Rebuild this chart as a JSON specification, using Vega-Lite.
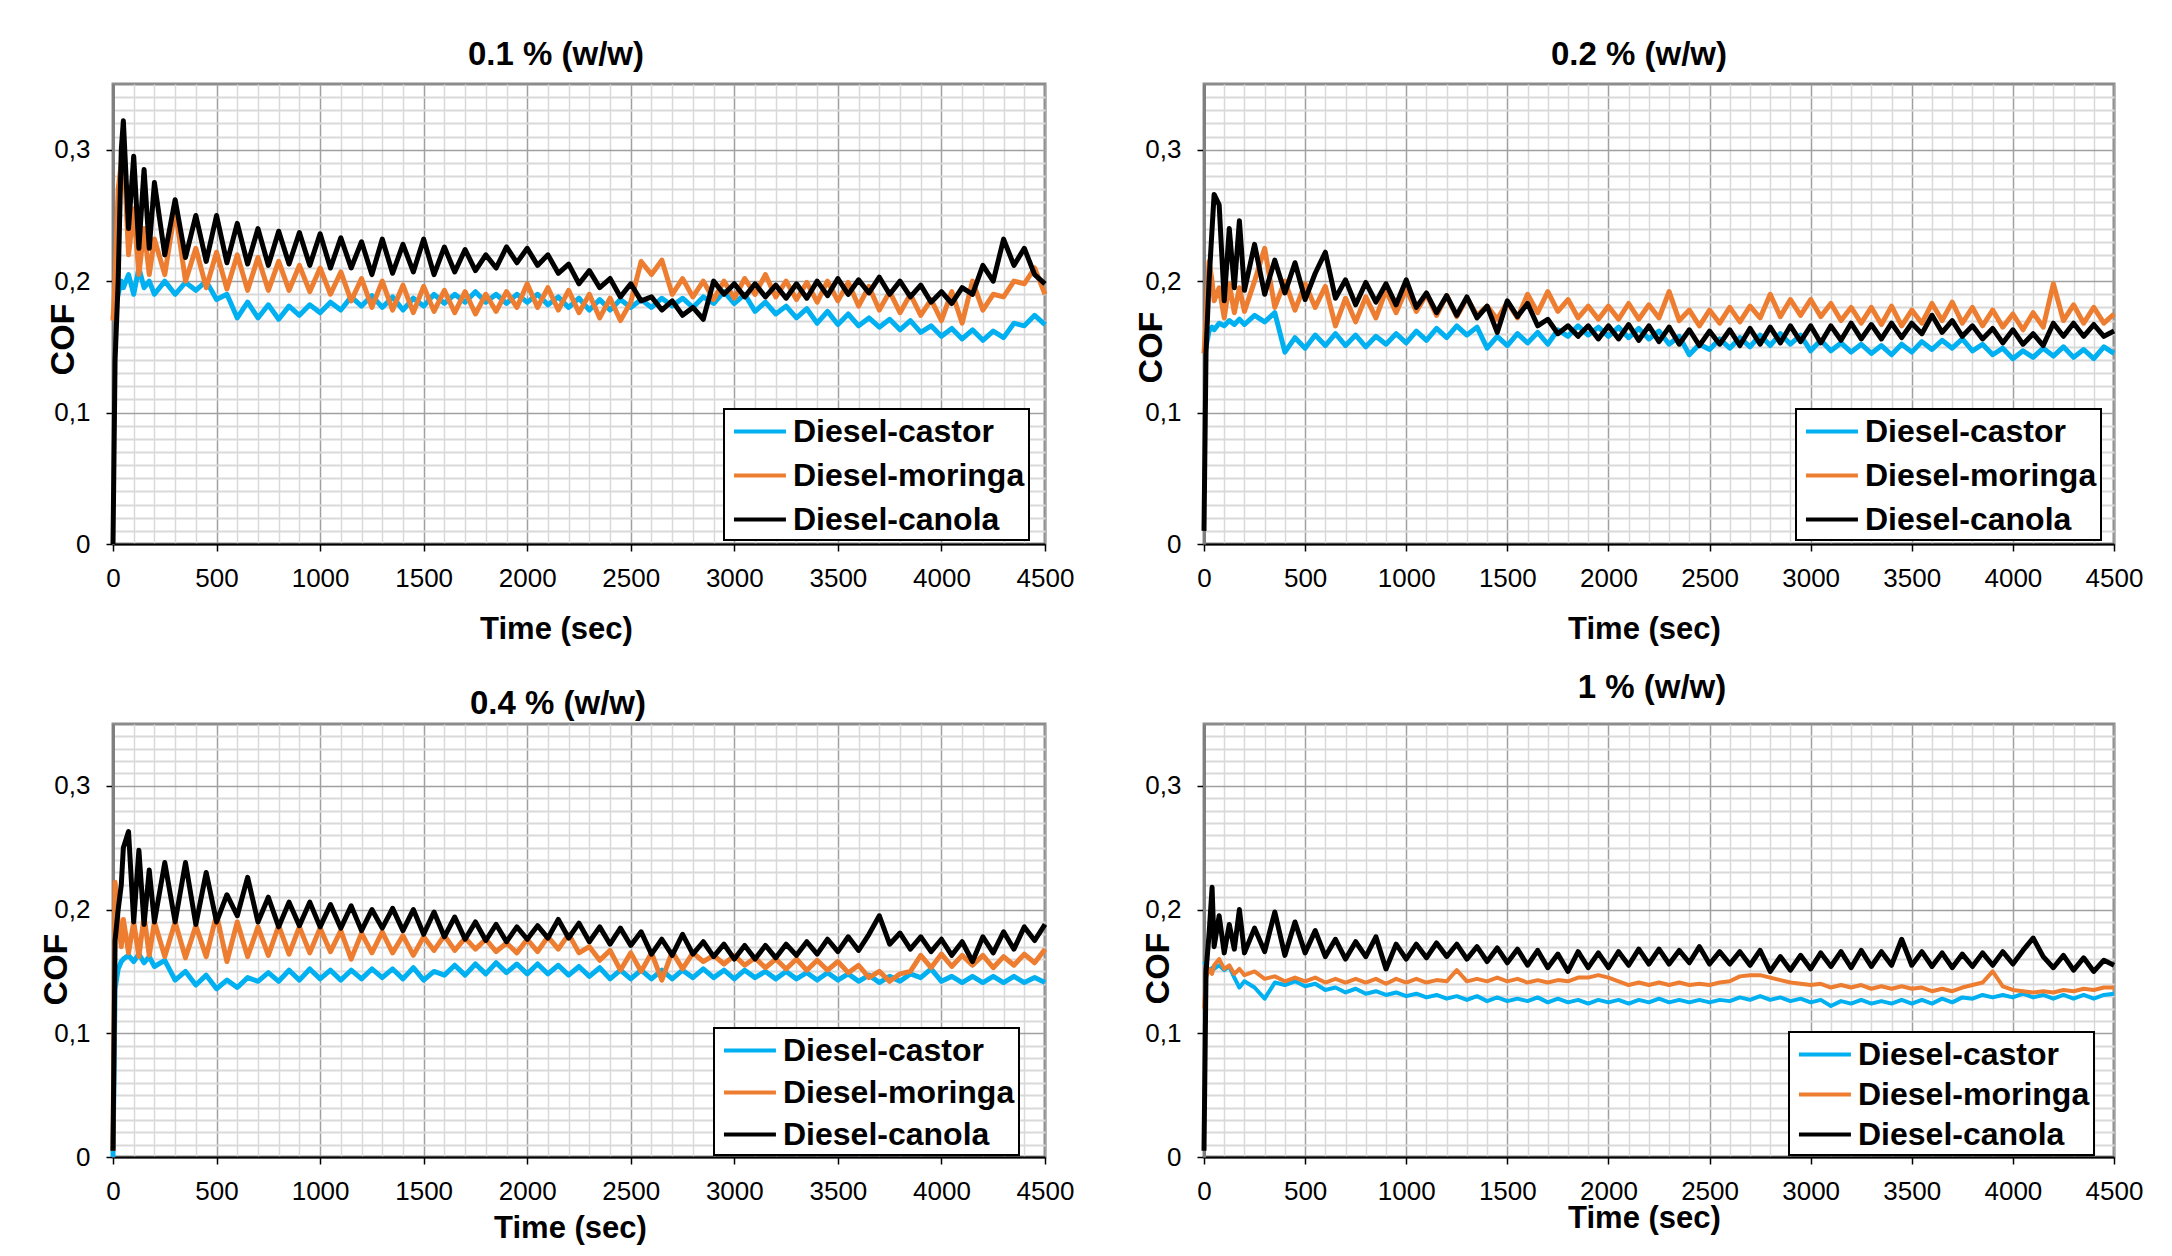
{
"$schema": "https://vega.github.io/schema/vega-lite/v6.json",
"background": "white",
"padding": {"left": 37, "top": 37, "right": 10, "bottom": 10},
"bounds": "flush",
"columns": 2,
"spacing": {"row": 180, "column": 159},
"resolve": {"scale": {"color": "independent"}, "legend": {"color": "independent"}},
"config": {
 "font": "Liberation Sans",
 "view": {"stroke": "#8c8c8c", "strokeWidth": 3},
 "title": {"font": "Liberation Sans", "fontSize": 33, "fontWeight": "bold", "color": "#000000", "baseline": "alphabetic", "anchor": "middle", "frame": "group"},
 "axis": {"labelFont": "Liberation Sans", "labelFontSize": 26, "labelColor": "#000000", "labelFlush": false, "labelOverlap": false, "titleFont": "Liberation Sans", "titleFontWeight": "bold", "titleColor": "#000000", "tickColor": "#000000", "tickSize": 7, "tickWidth": 1.5},
 "legend": {"labelFont": "Liberation Sans", "labelFontSize": 32, "labelFontWeight": "bold", "labelColor": "#000000", "labelLimit": 500, "labelOffset": 28, "strokeColor": "#000000", "strokeWidth": 2, "fillColor": "#ffffff", "padding": 4, "rowPadding": 9, "symbolType": "M-0.76,0H2.39", "symbolSize": 1089, "symbolStrokeWidth": 4}
},
"datasets": {
"c1": [{"t":0,"v":0.172},{"t":10,"v":0.18},{"t":25,"v":0.19},{"t":40,"v":0.2},{"t":50,"v":0.195},{"t":75,"v":0.205},{"t":100,"v":0.19},{"t":125,"v":0.21},{"t":150,"v":0.195},{"t":175,"v":0.2},
{"t":200,"v":0.19},{"t":250,"v":0.2},{"t":300,"v":0.19},{"t":350,"v":0.199},{"t":400,"v":0.193},{"t":450,"v":0.2},{"t":500,"v":0.186},{"t":550,"v":0.19},{"t":600,"v":0.172},{"t":650,"v":0.184},
{"t":700,"v":0.172},{"t":750,"v":0.182},{"t":800,"v":0.171},{"t":850,"v":0.181},{"t":900,"v":0.174},{"t":950,"v":0.182},{"t":1000,"v":0.176},{"t":1050,"v":0.184},{"t":1100,"v":0.178},{"t":1150,"v":0.188},
{"t":1200,"v":0.181},{"t":1250,"v":0.189},{"t":1300,"v":0.18},{"t":1350,"v":0.188},{"t":1400,"v":0.178},{"t":1450,"v":0.187},{"t":1500,"v":0.181},{"t":1550,"v":0.19},{"t":1600,"v":0.183},{"t":1650,"v":0.19},
{"t":1700,"v":0.184},{"t":1750,"v":0.192},{"t":1800,"v":0.184},{"t":1850,"v":0.19},{"t":1900,"v":0.183},{"t":1950,"v":0.19},{"t":2000,"v":0.184},{"t":2050,"v":0.19},{"t":2100,"v":0.182},{"t":2150,"v":0.188},
{"t":2200,"v":0.18},{"t":2250,"v":0.187},{"t":2300,"v":0.178},{"t":2350,"v":0.186},{"t":2400,"v":0.178},{"t":2450,"v":0.186},{"t":2500,"v":0.18},{"t":2550,"v":0.186},{"t":2600,"v":0.18},{"t":2650,"v":0.187},
{"t":2700,"v":0.181},{"t":2750,"v":0.187},{"t":2800,"v":0.18},{"t":2850,"v":0.188},{"t":2900,"v":0.183},{"t":2950,"v":0.192},{"t":3000,"v":0.183},{"t":3050,"v":0.19},{"t":3100,"v":0.177},{"t":3150,"v":0.184},
{"t":3200,"v":0.175},{"t":3250,"v":0.181},{"t":3300,"v":0.172},{"t":3350,"v":0.179},{"t":3400,"v":0.168},{"t":3450,"v":0.177},{"t":3500,"v":0.167},{"t":3550,"v":0.175},{"t":3600,"v":0.166},{"t":3650,"v":0.172},
{"t":3700,"v":0.165},{"t":3750,"v":0.171},{"t":3800,"v":0.163},{"t":3850,"v":0.17},{"t":3900,"v":0.161},{"t":3950,"v":0.166},{"t":4000,"v":0.158},{"t":4050,"v":0.164},{"t":4100,"v":0.156},{"t":4150,"v":0.163},
{"t":4200,"v":0.155},{"t":4250,"v":0.162},{"t":4300,"v":0.157},{"t":4350,"v":0.168},{"t":4400,"v":0.166},{"t":4450,"v":0.174},{"t":4500,"v":0.167}],
"m1": [{"t":0,"v":0.17},{"t":10,"v":0.2},{"t":25,"v":0.27},{"t":40,"v":0.29},{"t":50,"v":0.305},{"t":75,"v":0.22},{"t":100,"v":0.255},{"t":125,"v":0.205},{"t":150,"v":0.24},{"t":175,"v":0.205},
{"t":200,"v":0.232},{"t":250,"v":0.205},{"t":300,"v":0.255},{"t":350,"v":0.2},{"t":400,"v":0.225},{"t":450,"v":0.195},{"t":500,"v":0.222},{"t":550,"v":0.194},{"t":600,"v":0.22},{"t":650,"v":0.193},
{"t":700,"v":0.218},{"t":750,"v":0.193},{"t":800,"v":0.215},{"t":850,"v":0.193},{"t":900,"v":0.212},{"t":950,"v":0.192},{"t":1000,"v":0.21},{"t":1050,"v":0.19},{"t":1100,"v":0.207},{"t":1150,"v":0.185},
{"t":1200,"v":0.202},{"t":1250,"v":0.18},{"t":1300,"v":0.2},{"t":1350,"v":0.178},{"t":1400,"v":0.197},{"t":1450,"v":0.176},{"t":1500,"v":0.196},{"t":1550,"v":0.177},{"t":1600,"v":0.193},{"t":1650,"v":0.176},
{"t":1700,"v":0.192},{"t":1750,"v":0.175},{"t":1800,"v":0.19},{"t":1850,"v":0.177},{"t":1900,"v":0.192},{"t":1950,"v":0.18},{"t":2000,"v":0.198},{"t":2050,"v":0.18},{"t":2100,"v":0.195},{"t":2150,"v":0.178},
{"t":2200,"v":0.193},{"t":2250,"v":0.176},{"t":2300,"v":0.19},{"t":2350,"v":0.172},{"t":2400,"v":0.187},{"t":2450,"v":0.17},{"t":2500,"v":0.184},{"t":2550,"v":0.215},{"t":2600,"v":0.205},{"t":2650,"v":0.216},
{"t":2700,"v":0.19},{"t":2750,"v":0.202},{"t":2800,"v":0.188},{"t":2850,"v":0.2},{"t":2900,"v":0.186},{"t":2950,"v":0.2},{"t":3000,"v":0.187},{"t":3050,"v":0.202},{"t":3100,"v":0.19},{"t":3150,"v":0.205},
{"t":3200,"v":0.188},{"t":3250,"v":0.2},{"t":3300,"v":0.186},{"t":3350,"v":0.199},{"t":3400,"v":0.184},{"t":3450,"v":0.2},{"t":3500,"v":0.185},{"t":3550,"v":0.199},{"t":3600,"v":0.181},{"t":3650,"v":0.196},
{"t":3700,"v":0.178},{"t":3750,"v":0.192},{"t":3800,"v":0.176},{"t":3850,"v":0.19},{"t":3900,"v":0.174},{"t":3950,"v":0.186},{"t":4000,"v":0.17},{"t":4050,"v":0.192},{"t":4100,"v":0.168},{"t":4150,"v":0.2},
{"t":4200,"v":0.178},{"t":4250,"v":0.19},{"t":4300,"v":0.188},{"t":4350,"v":0.2},{"t":4400,"v":0.198},{"t":4450,"v":0.21},{"t":4500,"v":0.19}],
"k1": [{"t":0,"v":0},{"t":10,"v":0.14},{"t":25,"v":0.2},{"t":40,"v":0.3},{"t":50,"v":0.322},{"t":75,"v":0.24},{"t":100,"v":0.295},{"t":125,"v":0.225},{"t":150,"v":0.285},{"t":175,"v":0.225},
{"t":200,"v":0.275},{"t":250,"v":0.22},{"t":300,"v":0.262},{"t":350,"v":0.218},{"t":400,"v":0.25},{"t":450,"v":0.215},{"t":500,"v":0.25},{"t":550,"v":0.214},{"t":600,"v":0.244},{"t":650,"v":0.213},
{"t":700,"v":0.24},{"t":750,"v":0.212},{"t":800,"v":0.238},{"t":850,"v":0.213},{"t":900,"v":0.237},{"t":950,"v":0.212},{"t":1000,"v":0.236},{"t":1050,"v":0.21},{"t":1100,"v":0.233},{"t":1150,"v":0.21},
{"t":1200,"v":0.23},{"t":1250,"v":0.205},{"t":1300,"v":0.232},{"t":1350,"v":0.206},{"t":1400,"v":0.228},{"t":1450,"v":0.207},{"t":1500,"v":0.232},{"t":1550,"v":0.205},{"t":1600,"v":0.226},{"t":1650,"v":0.207},
{"t":1700,"v":0.224},{"t":1750,"v":0.208},{"t":1800,"v":0.22},{"t":1850,"v":0.21},{"t":1900,"v":0.226},{"t":1950,"v":0.214},{"t":2000,"v":0.225},{"t":2050,"v":0.212},{"t":2100,"v":0.22},{"t":2150,"v":0.206},
{"t":2200,"v":0.213},{"t":2250,"v":0.198},{"t":2300,"v":0.208},{"t":2350,"v":0.195},{"t":2400,"v":0.202},{"t":2450,"v":0.188},{"t":2500,"v":0.198},{"t":2550,"v":0.185},{"t":2600,"v":0.188},{"t":2650,"v":0.178},
{"t":2700,"v":0.185},{"t":2750,"v":0.174},{"t":2800,"v":0.18},{"t":2850,"v":0.171},{"t":2900,"v":0.2},{"t":2950,"v":0.19},{"t":3000,"v":0.198},{"t":3050,"v":0.188},{"t":3100,"v":0.198},{"t":3150,"v":0.188},
{"t":3200,"v":0.197},{"t":3250,"v":0.187},{"t":3300,"v":0.198},{"t":3350,"v":0.187},{"t":3400,"v":0.2},{"t":3450,"v":0.189},{"t":3500,"v":0.202},{"t":3550,"v":0.19},{"t":3600,"v":0.201},{"t":3650,"v":0.191},
{"t":3700,"v":0.203},{"t":3750,"v":0.19},{"t":3800,"v":0.2},{"t":3850,"v":0.188},{"t":3900,"v":0.197},{"t":3950,"v":0.184},{"t":4000,"v":0.192},{"t":4050,"v":0.183},{"t":4100,"v":0.195},{"t":4150,"v":0.19},
{"t":4200,"v":0.212},{"t":4250,"v":0.2},{"t":4300,"v":0.232},{"t":4350,"v":0.212},{"t":4400,"v":0.225},{"t":4450,"v":0.205},{"t":4500,"v":0.198}],
"c2": [{"t":0,"v":0.145},{"t":10,"v":0.15},{"t":25,"v":0.162},{"t":40,"v":0.165},{"t":50,"v":0.163},{"t":75,"v":0.168},{"t":100,"v":0.166},{"t":125,"v":0.17},{"t":150,"v":0.167},{"t":175,"v":0.171},
{"t":200,"v":0.167},{"t":250,"v":0.174},{"t":300,"v":0.169},{"t":350,"v":0.176},{"t":400,"v":0.146},{"t":450,"v":0.157},{"t":500,"v":0.149},{"t":550,"v":0.159},{"t":600,"v":0.151},{"t":650,"v":0.16},
{"t":700,"v":0.151},{"t":750,"v":0.159},{"t":800,"v":0.15},{"t":850,"v":0.158},{"t":900,"v":0.152},{"t":950,"v":0.16},{"t":1000,"v":0.153},{"t":1050,"v":0.162},{"t":1100,"v":0.155},{"t":1150,"v":0.164},
{"t":1200,"v":0.157},{"t":1250,"v":0.166},{"t":1300,"v":0.159},{"t":1350,"v":0.165},{"t":1400,"v":0.149},{"t":1450,"v":0.158},{"t":1500,"v":0.151},{"t":1550,"v":0.16},{"t":1600,"v":0.153},{"t":1650,"v":0.161},
{"t":1700,"v":0.152},{"t":1750,"v":0.163},{"t":1800,"v":0.158},{"t":1850,"v":0.166},{"t":1900,"v":0.159},{"t":1950,"v":0.165},{"t":2000,"v":0.158},{"t":2050,"v":0.165},{"t":2100,"v":0.157},{"t":2150,"v":0.164},
{"t":2200,"v":0.156},{"t":2250,"v":0.162},{"t":2300,"v":0.152},{"t":2350,"v":0.158},{"t":2400,"v":0.144},{"t":2450,"v":0.152},{"t":2500,"v":0.148},{"t":2550,"v":0.156},{"t":2600,"v":0.149},{"t":2650,"v":0.157},
{"t":2700,"v":0.15},{"t":2750,"v":0.159},{"t":2800,"v":0.151},{"t":2850,"v":0.16},{"t":2900,"v":0.152},{"t":2950,"v":0.159},{"t":3000,"v":0.147},{"t":3050,"v":0.155},{"t":3100,"v":0.147},{"t":3150,"v":0.153},
{"t":3200,"v":0.146},{"t":3250,"v":0.152},{"t":3300,"v":0.145},{"t":3350,"v":0.151},{"t":3400,"v":0.144},{"t":3450,"v":0.152},{"t":3500,"v":0.146},{"t":3550,"v":0.154},{"t":3600,"v":0.148},{"t":3650,"v":0.155},
{"t":3700,"v":0.149},{"t":3750,"v":0.156},{"t":3800,"v":0.147},{"t":3850,"v":0.152},{"t":3900,"v":0.144},{"t":3950,"v":0.149},{"t":4000,"v":0.141},{"t":4050,"v":0.147},{"t":4100,"v":0.142},{"t":4150,"v":0.149},
{"t":4200,"v":0.143},{"t":4250,"v":0.15},{"t":4300,"v":0.142},{"t":4350,"v":0.148},{"t":4400,"v":0.141},{"t":4450,"v":0.15},{"t":4500,"v":0.145}],
"m2": [{"t":0,"v":0.145},{"t":10,"v":0.17},{"t":25,"v":0.215},{"t":40,"v":0.2},{"t":50,"v":0.185},{"t":75,"v":0.195},{"t":100,"v":0.172},{"t":125,"v":0.198},{"t":150,"v":0.176},{"t":175,"v":0.195},
{"t":200,"v":0.177},{"t":250,"v":0.2},{"t":300,"v":0.225},{"t":350,"v":0.18},{"t":400,"v":0.2},{"t":450,"v":0.178},{"t":500,"v":0.198},{"t":550,"v":0.18},{"t":600,"v":0.196},{"t":650,"v":0.166},
{"t":700,"v":0.187},{"t":750,"v":0.169},{"t":800,"v":0.188},{"t":850,"v":0.172},{"t":900,"v":0.193},{"t":950,"v":0.176},{"t":1000,"v":0.194},{"t":1050,"v":0.177},{"t":1100,"v":0.19},{"t":1150,"v":0.174},
{"t":1200,"v":0.189},{"t":1250,"v":0.173},{"t":1300,"v":0.187},{"t":1350,"v":0.174},{"t":1400,"v":0.181},{"t":1450,"v":0.171},{"t":1500,"v":0.184},{"t":1550,"v":0.172},{"t":1600,"v":0.19},{"t":1650,"v":0.176},
{"t":1700,"v":0.192},{"t":1750,"v":0.177},{"t":1800,"v":0.186},{"t":1850,"v":0.172},{"t":1900,"v":0.181},{"t":1950,"v":0.171},{"t":2000,"v":0.181},{"t":2050,"v":0.171},{"t":2100,"v":0.183},{"t":2150,"v":0.171},
{"t":2200,"v":0.182},{"t":2250,"v":0.172},{"t":2300,"v":0.192},{"t":2350,"v":0.17},{"t":2400,"v":0.178},{"t":2450,"v":0.166},{"t":2500,"v":0.178},{"t":2550,"v":0.168},{"t":2600,"v":0.18},{"t":2650,"v":0.169},
{"t":2700,"v":0.181},{"t":2750,"v":0.172},{"t":2800,"v":0.19},{"t":2850,"v":0.173},{"t":2900,"v":0.186},{"t":2950,"v":0.174},{"t":3000,"v":0.186},{"t":3050,"v":0.173},{"t":3100,"v":0.183},{"t":3150,"v":0.17},
{"t":3200,"v":0.18},{"t":3250,"v":0.168},{"t":3300,"v":0.18},{"t":3350,"v":0.167},{"t":3400,"v":0.181},{"t":3450,"v":0.166},{"t":3500,"v":0.178},{"t":3550,"v":0.168},{"t":3600,"v":0.183},{"t":3650,"v":0.17},
{"t":3700,"v":0.184},{"t":3750,"v":0.168},{"t":3800,"v":0.18},{"t":3850,"v":0.166},{"t":3900,"v":0.178},{"t":3950,"v":0.165},{"t":4000,"v":0.175},{"t":4050,"v":0.163},{"t":4100,"v":0.176},{"t":4150,"v":0.165},
{"t":4200,"v":0.198},{"t":4250,"v":0.17},{"t":4300,"v":0.182},{"t":4350,"v":0.168},{"t":4400,"v":0.18},{"t":4450,"v":0.168},{"t":4500,"v":0.175}],
"k2": [{"t":0,"v":0.01},{"t":10,"v":0.146},{"t":25,"v":0.2},{"t":40,"v":0.24},{"t":50,"v":0.266},{"t":75,"v":0.258},{"t":100,"v":0.185},{"t":125,"v":0.24},{"t":150,"v":0.195},{"t":175,"v":0.246},
{"t":200,"v":0.193},{"t":250,"v":0.228},{"t":300,"v":0.19},{"t":350,"v":0.216},{"t":400,"v":0.191},{"t":450,"v":0.214},{"t":500,"v":0.186},{"t":550,"v":0.206},{"t":600,"v":0.222},{"t":650,"v":0.187},
{"t":700,"v":0.201},{"t":750,"v":0.182},{"t":800,"v":0.199},{"t":850,"v":0.184},{"t":900,"v":0.198},{"t":950,"v":0.182},{"t":1000,"v":0.201},{"t":1050,"v":0.18},{"t":1100,"v":0.191},{"t":1150,"v":0.176},
{"t":1200,"v":0.189},{"t":1250,"v":0.174},{"t":1300,"v":0.188},{"t":1350,"v":0.172},{"t":1400,"v":0.181},{"t":1450,"v":0.161},{"t":1500,"v":0.185},{"t":1550,"v":0.173},{"t":1600,"v":0.183},{"t":1650,"v":0.166},
{"t":1700,"v":0.171},{"t":1750,"v":0.16},{"t":1800,"v":0.166},{"t":1850,"v":0.158},{"t":1900,"v":0.166},{"t":1950,"v":0.156},{"t":2000,"v":0.166},{"t":2050,"v":0.156},{"t":2100,"v":0.167},{"t":2150,"v":0.155},
{"t":2200,"v":0.166},{"t":2250,"v":0.154},{"t":2300,"v":0.165},{"t":2350,"v":0.152},{"t":2400,"v":0.163},{"t":2450,"v":0.151},{"t":2500,"v":0.162},{"t":2550,"v":0.152},{"t":2600,"v":0.163},{"t":2650,"v":0.151},
{"t":2700,"v":0.164},{"t":2750,"v":0.152},{"t":2800,"v":0.165},{"t":2850,"v":0.153},{"t":2900,"v":0.166},{"t":2950,"v":0.154},{"t":3000,"v":0.166},{"t":3050,"v":0.153},{"t":3100,"v":0.166},{"t":3150,"v":0.155},
{"t":3200,"v":0.168},{"t":3250,"v":0.156},{"t":3300,"v":0.167},{"t":3350,"v":0.156},{"t":3400,"v":0.168},{"t":3450,"v":0.157},{"t":3500,"v":0.168},{"t":3550,"v":0.16},{"t":3600,"v":0.174},{"t":3650,"v":0.161},
{"t":3700,"v":0.17},{"t":3750,"v":0.158},{"t":3800,"v":0.166},{"t":3850,"v":0.156},{"t":3900,"v":0.164},{"t":3950,"v":0.153},{"t":4000,"v":0.163},{"t":4050,"v":0.152},{"t":4100,"v":0.16},{"t":4150,"v":0.151},
{"t":4200,"v":0.168},{"t":4250,"v":0.158},{"t":4300,"v":0.168},{"t":4350,"v":0.158},{"t":4400,"v":0.167},{"t":4450,"v":0.158},{"t":4500,"v":0.162}],
"c3": [{"t":0,"v":0},{"t":10,"v":0.136},{"t":25,"v":0.152},{"t":40,"v":0.158},{"t":50,"v":0.16},{"t":75,"v":0.163},{"t":100,"v":0.158},{"t":125,"v":0.164},{"t":150,"v":0.157},{"t":175,"v":0.162},
{"t":200,"v":0.154},{"t":250,"v":0.159},{"t":300,"v":0.143},{"t":350,"v":0.15},{"t":400,"v":0.139},{"t":450,"v":0.147},{"t":500,"v":0.136},{"t":550,"v":0.143},{"t":600,"v":0.137},{"t":650,"v":0.145},
{"t":700,"v":0.142},{"t":750,"v":0.149},{"t":800,"v":0.142},{"t":850,"v":0.151},{"t":900,"v":0.143},{"t":950,"v":0.152},{"t":1000,"v":0.144},{"t":1050,"v":0.151},{"t":1100,"v":0.143},{"t":1150,"v":0.151},
{"t":1200,"v":0.144},{"t":1250,"v":0.152},{"t":1300,"v":0.145},{"t":1350,"v":0.152},{"t":1400,"v":0.144},{"t":1450,"v":0.153},{"t":1500,"v":0.143},{"t":1550,"v":0.15},{"t":1600,"v":0.147},{"t":1650,"v":0.155},
{"t":1700,"v":0.147},{"t":1750,"v":0.156},{"t":1800,"v":0.148},{"t":1850,"v":0.157},{"t":1900,"v":0.149},{"t":1950,"v":0.156},{"t":2000,"v":0.148},{"t":2050,"v":0.156},{"t":2100,"v":0.148},{"t":2150,"v":0.155},
{"t":2200,"v":0.147},{"t":2250,"v":0.154},{"t":2300,"v":0.146},{"t":2350,"v":0.153},{"t":2400,"v":0.144},{"t":2450,"v":0.151},{"t":2500,"v":0.144},{"t":2550,"v":0.151},{"t":2600,"v":0.144},{"t":2650,"v":0.151},
{"t":2700,"v":0.144},{"t":2750,"v":0.151},{"t":2800,"v":0.145},{"t":2850,"v":0.152},{"t":2900,"v":0.145},{"t":2950,"v":0.151},{"t":3000,"v":0.144},{"t":3050,"v":0.151},{"t":3100,"v":0.145},{"t":3150,"v":0.15},
{"t":3200,"v":0.144},{"t":3250,"v":0.15},{"t":3300,"v":0.144},{"t":3350,"v":0.149},{"t":3400,"v":0.143},{"t":3450,"v":0.149},{"t":3500,"v":0.143},{"t":3550,"v":0.148},{"t":3600,"v":0.142},{"t":3650,"v":0.147},
{"t":3700,"v":0.141},{"t":3750,"v":0.146},{"t":3800,"v":0.142},{"t":3850,"v":0.148},{"t":3900,"v":0.145},{"t":3950,"v":0.152},{"t":4000,"v":0.142},{"t":4050,"v":0.146},{"t":4100,"v":0.141},{"t":4150,"v":0.146},
{"t":4200,"v":0.141},{"t":4250,"v":0.146},{"t":4300,"v":0.141},{"t":4350,"v":0.146},{"t":4400,"v":0.141},{"t":4450,"v":0.145},{"t":4500,"v":0.141}],
"m3": [{"t":0,"v":0.005},{"t":10,"v":0.222},{"t":25,"v":0.19},{"t":40,"v":0.17},{"t":50,"v":0.192},{"t":75,"v":0.165},{"t":100,"v":0.19},{"t":125,"v":0.162},{"t":150,"v":0.195},{"t":175,"v":0.163},
{"t":200,"v":0.19},{"t":250,"v":0.162},{"t":300,"v":0.19},{"t":350,"v":0.161},{"t":400,"v":0.187},{"t":450,"v":0.162},{"t":500,"v":0.196},{"t":550,"v":0.158},{"t":600,"v":0.19},{"t":650,"v":0.162},
{"t":700,"v":0.186},{"t":750,"v":0.163},{"t":800,"v":0.187},{"t":850,"v":0.164},{"t":900,"v":0.186},{"t":950,"v":0.165},{"t":1000,"v":0.185},{"t":1050,"v":0.166},{"t":1100,"v":0.183},{"t":1150,"v":0.16},
{"t":1200,"v":0.181},{"t":1250,"v":0.165},{"t":1300,"v":0.182},{"t":1350,"v":0.165},{"t":1400,"v":0.179},{"t":1450,"v":0.163},{"t":1500,"v":0.178},{"t":1550,"v":0.167},{"t":1600,"v":0.179},{"t":1650,"v":0.167},
{"t":1700,"v":0.177},{"t":1750,"v":0.168},{"t":1800,"v":0.176},{"t":1850,"v":0.166},{"t":1900,"v":0.173},{"t":1950,"v":0.165},{"t":2000,"v":0.176},{"t":2050,"v":0.166},{"t":2100,"v":0.178},{"t":2150,"v":0.168},
{"t":2200,"v":0.18},{"t":2250,"v":0.165},{"t":2300,"v":0.17},{"t":2350,"v":0.159},{"t":2400,"v":0.167},{"t":2450,"v":0.151},{"t":2500,"v":0.165},{"t":2550,"v":0.15},{"t":2600,"v":0.165},{"t":2650,"v":0.143},
{"t":2700,"v":0.166},{"t":2750,"v":0.152},{"t":2800,"v":0.165},{"t":2850,"v":0.158},{"t":2900,"v":0.163},{"t":2950,"v":0.156},{"t":3000,"v":0.163},{"t":3050,"v":0.155},{"t":3100,"v":0.161},{"t":3150,"v":0.153},
{"t":3200,"v":0.16},{"t":3250,"v":0.152},{"t":3300,"v":0.16},{"t":3350,"v":0.151},{"t":3400,"v":0.159},{"t":3450,"v":0.151},{"t":3500,"v":0.158},{"t":3550,"v":0.149},{"t":3600,"v":0.155},{"t":3650,"v":0.145},
{"t":3700,"v":0.15},{"t":3750,"v":0.142},{"t":3800,"v":0.148},{"t":3850,"v":0.15},{"t":3900,"v":0.163},{"t":3950,"v":0.153},{"t":4000,"v":0.164},{"t":4050,"v":0.154},{"t":4100,"v":0.163},{"t":4150,"v":0.155},
{"t":4200,"v":0.163},{"t":4250,"v":0.153},{"t":4300,"v":0.162},{"t":4350,"v":0.155},{"t":4400,"v":0.164},{"t":4450,"v":0.157},{"t":4500,"v":0.168}],
"k3": [{"t":0,"v":0.005},{"t":10,"v":0.175},{"t":25,"v":0.2},{"t":40,"v":0.22},{"t":50,"v":0.25},{"t":75,"v":0.263},{"t":100,"v":0.19},{"t":125,"v":0.248},{"t":150,"v":0.188},{"t":175,"v":0.232},
{"t":200,"v":0.19},{"t":250,"v":0.238},{"t":300,"v":0.19},{"t":350,"v":0.238},{"t":400,"v":0.188},{"t":450,"v":0.23},{"t":500,"v":0.19},{"t":550,"v":0.212},{"t":600,"v":0.195},{"t":650,"v":0.226},
{"t":700,"v":0.19},{"t":750,"v":0.21},{"t":800,"v":0.186},{"t":850,"v":0.206},{"t":900,"v":0.187},{"t":950,"v":0.206},{"t":1000,"v":0.186},{"t":1050,"v":0.204},{"t":1100,"v":0.185},{"t":1150,"v":0.203},
{"t":1200,"v":0.183},{"t":1250,"v":0.2},{"t":1300,"v":0.185},{"t":1350,"v":0.201},{"t":1400,"v":0.183},{"t":1450,"v":0.2},{"t":1500,"v":0.18},{"t":1550,"v":0.198},{"t":1600,"v":0.178},{"t":1650,"v":0.194},
{"t":1700,"v":0.176},{"t":1750,"v":0.19},{"t":1800,"v":0.175},{"t":1850,"v":0.188},{"t":1900,"v":0.174},{"t":1950,"v":0.186},{"t":2000,"v":0.176},{"t":2050,"v":0.187},{"t":2100,"v":0.177},{"t":2150,"v":0.192},
{"t":2200,"v":0.177},{"t":2250,"v":0.189},{"t":2300,"v":0.174},{"t":2350,"v":0.186},{"t":2400,"v":0.172},{"t":2450,"v":0.185},{"t":2500,"v":0.171},{"t":2550,"v":0.182},{"t":2600,"v":0.164},{"t":2650,"v":0.176},
{"t":2700,"v":0.163},{"t":2750,"v":0.18},{"t":2800,"v":0.164},{"t":2850,"v":0.174},{"t":2900,"v":0.162},{"t":2950,"v":0.172},{"t":3000,"v":0.16},{"t":3050,"v":0.171},{"t":3100,"v":0.16},{"t":3150,"v":0.171},
{"t":3200,"v":0.161},{"t":3250,"v":0.172},{"t":3300,"v":0.163},{"t":3350,"v":0.174},{"t":3400,"v":0.164},{"t":3450,"v":0.176},{"t":3500,"v":0.166},{"t":3550,"v":0.178},{"t":3600,"v":0.167},{"t":3650,"v":0.18},
{"t":3700,"v":0.195},{"t":3750,"v":0.172},{"t":3800,"v":0.181},{"t":3850,"v":0.168},{"t":3900,"v":0.178},{"t":3950,"v":0.166},{"t":4000,"v":0.176},{"t":4050,"v":0.163},{"t":4100,"v":0.174},{"t":4150,"v":0.158},
{"t":4200,"v":0.178},{"t":4250,"v":0.165},{"t":4300,"v":0.182},{"t":4350,"v":0.168},{"t":4400,"v":0.186},{"t":4450,"v":0.175},{"t":4500,"v":0.188}],
"c4": [{"t":0,"v":0.158},{"t":10,"v":0.155},{"t":25,"v":0.15},{"t":40,"v":0.153},{"t":50,"v":0.152},{"t":75,"v":0.155},{"t":100,"v":0.151},{"t":125,"v":0.154},{"t":150,"v":0.145},{"t":175,"v":0.137},
{"t":200,"v":0.142},{"t":250,"v":0.137},{"t":300,"v":0.128},{"t":350,"v":0.141},{"t":400,"v":0.139},{"t":450,"v":0.142},{"t":500,"v":0.138},{"t":550,"v":0.14},{"t":600,"v":0.135},{"t":650,"v":0.137},
{"t":700,"v":0.133},{"t":750,"v":0.136},{"t":800,"v":0.132},{"t":850,"v":0.134},{"t":900,"v":0.131},{"t":950,"v":0.133},{"t":1000,"v":0.13},{"t":1050,"v":0.132},{"t":1100,"v":0.129},{"t":1150,"v":0.131},
{"t":1200,"v":0.128},{"t":1250,"v":0.13},{"t":1300,"v":0.127},{"t":1350,"v":0.13},{"t":1400,"v":0.126},{"t":1450,"v":0.129},{"t":1500,"v":0.126},{"t":1550,"v":0.128},{"t":1600,"v":0.126},{"t":1650,"v":0.129},
{"t":1700,"v":0.125},{"t":1750,"v":0.128},{"t":1800,"v":0.125},{"t":1850,"v":0.127},{"t":1900,"v":0.124},{"t":1950,"v":0.127},{"t":2000,"v":0.125},{"t":2050,"v":0.127},{"t":2100,"v":0.124},{"t":2150,"v":0.127},
{"t":2200,"v":0.125},{"t":2250,"v":0.128},{"t":2300,"v":0.125},{"t":2350,"v":0.127},{"t":2400,"v":0.125},{"t":2450,"v":0.127},{"t":2500,"v":0.125},{"t":2550,"v":0.127},{"t":2600,"v":0.126},{"t":2650,"v":0.129},
{"t":2700,"v":0.127},{"t":2750,"v":0.13},{"t":2800,"v":0.127},{"t":2850,"v":0.129},{"t":2900,"v":0.126},{"t":2950,"v":0.128},{"t":3000,"v":0.125},{"t":3050,"v":0.127},{"t":3100,"v":0.122},{"t":3150,"v":0.126},
{"t":3200,"v":0.124},{"t":3250,"v":0.127},{"t":3300,"v":0.124},{"t":3350,"v":0.126},{"t":3400,"v":0.124},{"t":3450,"v":0.127},{"t":3500,"v":0.124},{"t":3550,"v":0.127},{"t":3600,"v":0.124},{"t":3650,"v":0.128},
{"t":3700,"v":0.125},{"t":3750,"v":0.129},{"t":3800,"v":0.128},{"t":3850,"v":0.131},{"t":3900,"v":0.129},{"t":3950,"v":0.131},{"t":4000,"v":0.129},{"t":4050,"v":0.132},{"t":4100,"v":0.129},{"t":4150,"v":0.131},
{"t":4200,"v":0.128},{"t":4250,"v":0.131},{"t":4300,"v":0.128},{"t":4350,"v":0.131},{"t":4400,"v":0.128},{"t":4450,"v":0.131},{"t":4500,"v":0.132}],
"m4": [{"t":0,"v":0.12},{"t":10,"v":0.145},{"t":25,"v":0.152},{"t":40,"v":0.148},{"t":50,"v":0.155},{"t":75,"v":0.16},{"t":100,"v":0.152},{"t":125,"v":0.155},{"t":150,"v":0.148},{"t":175,"v":0.152},
{"t":200,"v":0.147},{"t":250,"v":0.15},{"t":300,"v":0.144},{"t":350,"v":0.146},{"t":400,"v":0.142},{"t":450,"v":0.145},{"t":500,"v":0.142},{"t":550,"v":0.145},{"t":600,"v":0.141},{"t":650,"v":0.144},
{"t":700,"v":0.141},{"t":750,"v":0.144},{"t":800,"v":0.141},{"t":850,"v":0.144},{"t":900,"v":0.14},{"t":950,"v":0.144},{"t":1000,"v":0.141},{"t":1050,"v":0.144},{"t":1100,"v":0.141},{"t":1150,"v":0.143},
{"t":1200,"v":0.142},{"t":1250,"v":0.151},{"t":1300,"v":0.142},{"t":1350,"v":0.144},{"t":1400,"v":0.142},{"t":1450,"v":0.145},{"t":1500,"v":0.142},{"t":1550,"v":0.144},{"t":1600,"v":0.141},{"t":1650,"v":0.143},
{"t":1700,"v":0.141},{"t":1750,"v":0.143},{"t":1800,"v":0.142},{"t":1850,"v":0.145},{"t":1900,"v":0.145},{"t":1950,"v":0.147},{"t":2000,"v":0.145},{"t":2050,"v":0.142},{"t":2100,"v":0.139},{"t":2150,"v":0.141},
{"t":2200,"v":0.139},{"t":2250,"v":0.141},{"t":2300,"v":0.139},{"t":2350,"v":0.141},{"t":2400,"v":0.139},{"t":2450,"v":0.14},{"t":2500,"v":0.139},{"t":2550,"v":0.141},{"t":2600,"v":0.142},{"t":2650,"v":0.146},
{"t":2700,"v":0.147},{"t":2750,"v":0.147},{"t":2800,"v":0.145},{"t":2850,"v":0.143},{"t":2900,"v":0.141},{"t":2950,"v":0.14},{"t":3000,"v":0.139},{"t":3050,"v":0.14},{"t":3100,"v":0.137},{"t":3150,"v":0.139},
{"t":3200,"v":0.137},{"t":3250,"v":0.139},{"t":3300,"v":0.136},{"t":3350,"v":0.138},{"t":3400,"v":0.136},{"t":3450,"v":0.138},{"t":3500,"v":0.136},{"t":3550,"v":0.137},{"t":3600,"v":0.134},{"t":3650,"v":0.136},
{"t":3700,"v":0.134},{"t":3750,"v":0.137},{"t":3800,"v":0.139},{"t":3850,"v":0.141},{"t":3900,"v":0.15},{"t":3950,"v":0.138},{"t":4000,"v":0.135},{"t":4050,"v":0.134},{"t":4100,"v":0.133},{"t":4150,"v":0.134},
{"t":4200,"v":0.133},{"t":4250,"v":0.135},{"t":4300,"v":0.134},{"t":4350,"v":0.136},{"t":4400,"v":0.135},{"t":4450,"v":0.137},{"t":4500,"v":0.137}],
"k4": [{"t":0,"v":0.005},{"t":10,"v":0.15},{"t":25,"v":0.18},{"t":40,"v":0.218},{"t":50,"v":0.17},{"t":75,"v":0.195},{"t":100,"v":0.165},{"t":125,"v":0.188},{"t":150,"v":0.168},{"t":175,"v":0.2},
{"t":200,"v":0.165},{"t":250,"v":0.185},{"t":300,"v":0.166},{"t":350,"v":0.198},{"t":400,"v":0.163},{"t":450,"v":0.19},{"t":500,"v":0.165},{"t":550,"v":0.183},{"t":600,"v":0.162},{"t":650,"v":0.176},
{"t":700,"v":0.16},{"t":750,"v":0.174},{"t":800,"v":0.162},{"t":850,"v":0.178},{"t":900,"v":0.152},{"t":950,"v":0.172},{"t":1000,"v":0.16},{"t":1050,"v":0.172},{"t":1100,"v":0.161},{"t":1150,"v":0.173},
{"t":1200,"v":0.162},{"t":1250,"v":0.172},{"t":1300,"v":0.16},{"t":1350,"v":0.17},{"t":1400,"v":0.158},{"t":1450,"v":0.169},{"t":1500,"v":0.157},{"t":1550,"v":0.168},{"t":1600,"v":0.155},{"t":1650,"v":0.167},
{"t":1700,"v":0.153},{"t":1750,"v":0.164},{"t":1800,"v":0.15},{"t":1850,"v":0.166},{"t":1900,"v":0.153},{"t":1950,"v":0.165},{"t":2000,"v":0.153},{"t":2050,"v":0.166},{"t":2100,"v":0.155},{"t":2150,"v":0.168},
{"t":2200,"v":0.156},{"t":2250,"v":0.168},{"t":2300,"v":0.156},{"t":2350,"v":0.167},{"t":2400,"v":0.157},{"t":2450,"v":0.17},{"t":2500,"v":0.156},{"t":2550,"v":0.166},{"t":2600,"v":0.156},{"t":2650,"v":0.166},
{"t":2700,"v":0.155},{"t":2750,"v":0.167},{"t":2800,"v":0.15},{"t":2850,"v":0.162},{"t":2900,"v":0.151},{"t":2950,"v":0.163},{"t":3000,"v":0.152},{"t":3050,"v":0.165},{"t":3100,"v":0.154},{"t":3150,"v":0.166},
{"t":3200,"v":0.153},{"t":3250,"v":0.167},{"t":3300,"v":0.154},{"t":3350,"v":0.166},{"t":3400,"v":0.155},{"t":3450,"v":0.176},{"t":3500,"v":0.155},{"t":3550,"v":0.166},{"t":3600,"v":0.154},{"t":3650,"v":0.165},
{"t":3700,"v":0.153},{"t":3750,"v":0.164},{"t":3800,"v":0.154},{"t":3850,"v":0.165},{"t":3900,"v":0.155},{"t":3950,"v":0.166},{"t":4000,"v":0.156},{"t":4050,"v":0.167},{"t":4100,"v":0.177},{"t":4150,"v":0.162},
{"t":4200,"v":0.153},{"t":4250,"v":0.163},{"t":4300,"v":0.151},{"t":4350,"v":0.161},{"t":4400,"v":0.15},{"t":4450,"v":0.159},{"t":4500,"v":0.155}]
},
"concat": [
{
 "width": 932, "height": 460,
 "title": {"text": "0.1 % (w/w)", "offset": 12, "dx": -23},
 "layer": [
  {"data": {"values": [{}]}, "mark": {"type": "point", "opacity": 0},
   "encoding": {
    "x": {"datum": 0, "type": "quantitative", "axis": {"orient": "top", "values": [100,200,300,400,600,700,800,900,1100,1200,1300,1400,1600,1700,1800,1900,2100,2200,2300,2400,2600,2700,2800,2900,3100,3200,3300,3400,3600,3700,3800,3900,4100,4200,4300,4400], "grid": true, "gridColor": "#d9d9d9", "gridWidth": 1.5, "labels": false, "ticks": false, "domain": false, "title": null}},
    "y": {"datum": 0, "type": "quantitative", "axis": {"orient": "right", "values": [0.01,0.02,0.03,0.04,0.05,0.06,0.07,0.08,0.09,0.11,0.12,0.13,0.14,0.15,0.16,0.17,0.18,0.19,0.21,0.22,0.23,0.24,0.25,0.26,0.27,0.28,0.29,0.31,0.32,0.33,0.34], "grid": true, "gridColor": "#d9d9d9", "gridWidth": 2, "labels": false, "ticks": false, "domain": false, "title": null}}}},
  {"data": {"name": "c1"}, "mark": {"type": "line", "strokeWidth": 5, "strokeJoin": "round"},
   "encoding": {
    "x": {"field": "t", "type": "quantitative", "scale": {"domain": [0, 4500], "nice": false, "zero": false}, "axis": {"orient": "bottom", "values": [0,500,1000,1500,2000,2500,3000,3500,4000,4500], "format": "d", "grid": true, "gridColor": "#a0a0a0", "gridWidth": 1.5, "domainColor": "#000000", "domainWidth": 2, "labelPadding": 14, "title": "Time (sec)", "titleFontSize": 31, "titleX": 443, "titleY": 94, "titleAlign": "center", "titleBaseline": "alphabetic"}},
    "y": {"field": "v", "type": "quantitative", "scale": {"domain": [0, 0.35], "nice": false}, "axis": {"orient": "left", "values": [0,0.1,0.2,0.3], "labelExpr": "replace(format(datum.value, '.1~f'), '.', ',')", "grid": true, "gridColor": "#a0a0a0", "gridWidth": 1.5, "domainColor": "#7f7f7f", "domainWidth": 3, "labelPadding": 16, "title": "COF", "titleFontSize": 34, "titleX": -40, "titleY": 255, "titleAngle": 270, "titleAlign": "center", "titleBaseline": "alphabetic"}},
    "color": {"datum": "Diesel-castor", "type": "nominal", "scale": {"domain": ["Diesel-castor", "Diesel-moringa", "Diesel-canola"], "range": ["#00b0f0", "#ed7d31", "#000000"]}, "legend": {"title": null, "orient": "none", "legendX": 611, "legendY": 325}}}},
  {"data": {"name": "m1"}, "mark": {"type": "line", "strokeWidth": 5, "strokeJoin": "round"},
   "encoding": {"x": {"field": "t", "type": "quantitative", "axis": null}, "y": {"field": "v", "type": "quantitative", "axis": null}, "color": {"datum": "Diesel-moringa", "type": "nominal"}}},
  {"data": {"name": "k1"}, "mark": {"type": "line", "strokeWidth": 5, "strokeJoin": "round"},
   "encoding": {"x": {"field": "t", "type": "quantitative", "axis": null}, "y": {"field": "v", "type": "quantitative", "axis": null}, "color": {"datum": "Diesel-canola", "type": "nominal"}}}
 ],
 "resolve": {"axis": {"x": "independent", "y": "independent"}}
},
{
 "width": 910, "height": 460,
 "title": {"text": "0.2 % (w/w)", "offset": 12, "dx": -20},
 "layer": [
  {"data": {"values": [{}]}, "mark": {"type": "point", "opacity": 0},
   "encoding": {
    "x": {"datum": 0, "type": "quantitative", "axis": {"orient": "top", "values": [100,200,300,400,600,700,800,900,1100,1200,1300,1400,1600,1700,1800,1900,2100,2200,2300,2400,2600,2700,2800,2900,3100,3200,3300,3400,3600,3700,3800,3900,4100,4200,4300,4400], "grid": true, "gridColor": "#d9d9d9", "gridWidth": 1.5, "labels": false, "ticks": false, "domain": false, "title": null}},
    "y": {"datum": 0, "type": "quantitative", "axis": {"orient": "right", "values": [0.01,0.02,0.03,0.04,0.05,0.06,0.07,0.08,0.09,0.11,0.12,0.13,0.14,0.15,0.16,0.17,0.18,0.19,0.21,0.22,0.23,0.24,0.25,0.26,0.27,0.28,0.29,0.31,0.32,0.33,0.34], "grid": true, "gridColor": "#d9d9d9", "gridWidth": 2, "labels": false, "ticks": false, "domain": false, "title": null}}}},
  {"data": {"name": "c2"}, "mark": {"type": "line", "strokeWidth": 5, "strokeJoin": "round"},
   "encoding": {
    "x": {"field": "t", "type": "quantitative", "scale": {"domain": [0, 4500], "nice": false, "zero": false}, "axis": {"orient": "bottom", "values": [0,500,1000,1500,2000,2500,3000,3500,4000,4500], "format": "d", "grid": true, "gridColor": "#a0a0a0", "gridWidth": 1.5, "domainColor": "#000000", "domainWidth": 2, "labelPadding": 14, "title": "Time (sec)", "titleFontSize": 31, "titleX": 440, "titleY": 94, "titleAlign": "center", "titleBaseline": "alphabetic"}},
    "y": {"field": "v", "type": "quantitative", "scale": {"domain": [0, 0.35], "nice": false}, "axis": {"orient": "left", "values": [0,0.1,0.2,0.3], "labelExpr": "replace(format(datum.value, '.1~f'), '.', ',')", "grid": true, "gridColor": "#a0a0a0", "gridWidth": 1.5, "domainColor": "#7f7f7f", "domainWidth": 3, "labelPadding": 16, "title": "COF", "titleFontSize": 34, "titleX": -43, "titleY": 263, "titleAngle": 270, "titleAlign": "center", "titleBaseline": "alphabetic"}},
    "color": {"datum": "Diesel-castor", "type": "nominal", "scale": {"domain": ["Diesel-castor", "Diesel-moringa", "Diesel-canola"], "range": ["#00b0f0", "#ed7d31", "#000000"]}, "legend": {"title": null, "orient": "none", "legendX": 592, "legendY": 325}}}},
  {"data": {"name": "m2"}, "mark": {"type": "line", "strokeWidth": 5, "strokeJoin": "round"},
   "encoding": {"x": {"field": "t", "type": "quantitative", "axis": null}, "y": {"field": "v", "type": "quantitative", "axis": null}, "color": {"datum": "Diesel-moringa", "type": "nominal"}}},
  {"data": {"name": "k2"}, "mark": {"type": "line", "strokeWidth": 5, "strokeJoin": "round"},
   "encoding": {"x": {"field": "t", "type": "quantitative", "axis": null}, "y": {"field": "v", "type": "quantitative", "axis": null}, "color": {"datum": "Diesel-canola", "type": "nominal"}}}
 ],
 "resolve": {"axis": {"x": "independent", "y": "independent"}}
},
{
 "width": 932, "height": 433,
 "title": {"text": "0.4 % (w/w)", "offset": 3, "dx": -21},
 "layer": [
  {"data": {"values": [{}]}, "mark": {"type": "point", "opacity": 0},
   "encoding": {
    "x": {"datum": 0, "type": "quantitative", "axis": {"orient": "top", "values": [100,200,300,400,600,700,800,900,1100,1200,1300,1400,1600,1700,1800,1900,2100,2200,2300,2400,2600,2700,2800,2900,3100,3200,3300,3400,3600,3700,3800,3900,4100,4200,4300,4400], "grid": true, "gridColor": "#d9d9d9", "gridWidth": 1.5, "labels": false, "ticks": false, "domain": false, "title": null}},
    "y": {"datum": 0, "type": "quantitative", "axis": {"orient": "right", "values": [0.01,0.02,0.03,0.04,0.05,0.06,0.07,0.08,0.09,0.11,0.12,0.13,0.14,0.15,0.16,0.17,0.18,0.19,0.21,0.22,0.23,0.24,0.25,0.26,0.27,0.28,0.29,0.31,0.32,0.33,0.34], "grid": true, "gridColor": "#d9d9d9", "gridWidth": 2, "labels": false, "ticks": false, "domain": false, "title": null}}}},
  {"data": {"name": "c3"}, "mark": {"type": "line", "strokeWidth": 5, "strokeJoin": "round"},
   "encoding": {
    "x": {"field": "t", "type": "quantitative", "scale": {"domain": [0, 4500], "nice": false, "zero": false}, "axis": {"orient": "bottom", "values": [0,500,1000,1500,2000,2500,3000,3500,4000,4500], "format": "d", "grid": true, "gridColor": "#a0a0a0", "gridWidth": 1.5, "domainColor": "#000000", "domainWidth": 2, "labelPadding": 14, "title": "Time (sec)", "titleFontSize": 31, "titleX": 457, "titleY": 80, "titleAlign": "center", "titleBaseline": "alphabetic"}},
    "y": {"field": "v", "type": "quantitative", "scale": {"domain": [0, 0.35], "nice": false}, "axis": {"orient": "left", "values": [0,0.1,0.2,0.3], "labelExpr": "replace(format(datum.value, '.1~f'), '.', ',')", "grid": true, "gridColor": "#a0a0a0", "gridWidth": 1.5, "domainColor": "#7f7f7f", "domainWidth": 3, "labelPadding": 16, "title": "COF", "titleFontSize": 34, "titleX": -47, "titleY": 245, "titleAngle": 270, "titleAlign": "center", "titleBaseline": "alphabetic"}},
    "color": {"datum": "Diesel-castor", "type": "nominal", "scale": {"domain": ["Diesel-castor", "Diesel-moringa", "Diesel-canola"], "range": ["#00b0f0", "#ed7d31", "#000000"]}, "legend": {"title": null, "orient": "none", "legendX": 601, "legendY": 304, "rowPadding": 7}}}},
  {"data": {"name": "m3"}, "mark": {"type": "line", "strokeWidth": 5, "strokeJoin": "round"},
   "encoding": {"x": {"field": "t", "type": "quantitative", "axis": null}, "y": {"field": "v", "type": "quantitative", "axis": null}, "color": {"datum": "Diesel-moringa", "type": "nominal"}}},
  {"data": {"name": "k3"}, "mark": {"type": "line", "strokeWidth": 5, "strokeJoin": "round"},
   "encoding": {"x": {"field": "t", "type": "quantitative", "axis": null}, "y": {"field": "v", "type": "quantitative", "axis": null}, "color": {"datum": "Diesel-canola", "type": "nominal"}}}
 ],
 "resolve": {"axis": {"x": "independent", "y": "independent"}}
},
{
 "width": 910, "height": 433,
 "title": {"text": "1 % (w/w)", "offset": 19, "dx": -7},
 "layer": [
  {"data": {"values": [{}]}, "mark": {"type": "point", "opacity": 0},
   "encoding": {
    "x": {"datum": 0, "type": "quantitative", "axis": {"orient": "top", "values": [100,200,300,400,600,700,800,900,1100,1200,1300,1400,1600,1700,1800,1900,2100,2200,2300,2400,2600,2700,2800,2900,3100,3200,3300,3400,3600,3700,3800,3900,4100,4200,4300,4400], "grid": true, "gridColor": "#d9d9d9", "gridWidth": 1.5, "labels": false, "ticks": false, "domain": false, "title": null}},
    "y": {"datum": 0, "type": "quantitative", "axis": {"orient": "right", "values": [0.01,0.02,0.03,0.04,0.05,0.06,0.07,0.08,0.09,0.11,0.12,0.13,0.14,0.15,0.16,0.17,0.18,0.19,0.21,0.22,0.23,0.24,0.25,0.26,0.27,0.28,0.29,0.31,0.32,0.33,0.34], "grid": true, "gridColor": "#d9d9d9", "gridWidth": 2, "labels": false, "ticks": false, "domain": false, "title": null}}}},
  {"data": {"name": "c4"}, "mark": {"type": "line", "strokeWidth": 4, "strokeJoin": "round"},
   "encoding": {
    "x": {"field": "t", "type": "quantitative", "scale": {"domain": [0, 4500], "nice": false, "zero": false}, "axis": {"orient": "bottom", "values": [0,500,1000,1500,2000,2500,3000,3500,4000,4500], "format": "d", "grid": true, "gridColor": "#a0a0a0", "gridWidth": 1.5, "domainColor": "#000000", "domainWidth": 2, "labelPadding": 14, "title": "Time (sec)", "titleFontSize": 31, "titleX": 440, "titleY": 70, "titleAlign": "center", "titleBaseline": "alphabetic"}},
    "y": {"field": "v", "type": "quantitative", "scale": {"domain": [0, 0.35], "nice": false}, "axis": {"orient": "left", "values": [0,0.1,0.2,0.3], "labelExpr": "replace(format(datum.value, '.1~f'), '.', ',')", "grid": true, "gridColor": "#a0a0a0", "gridWidth": 1.5, "domainColor": "#7f7f7f", "domainWidth": 3, "labelPadding": 16, "title": "COF", "titleFontSize": 34, "titleX": -36, "titleY": 244, "titleAngle": 270, "titleAlign": "center", "titleBaseline": "alphabetic"}},
    "color": {"datum": "Diesel-castor", "type": "nominal", "scale": {"domain": ["Diesel-castor", "Diesel-moringa", "Diesel-canola"], "range": ["#00b0f0", "#ed7d31", "#000000"]}, "legend": {"title": null, "orient": "none", "legendX": 585, "legendY": 308, "rowPadding": 5}}}},
  {"data": {"name": "m4"}, "mark": {"type": "line", "strokeWidth": 4, "strokeJoin": "round"},
   "encoding": {"x": {"field": "t", "type": "quantitative", "axis": null}, "y": {"field": "v", "type": "quantitative", "axis": null}, "color": {"datum": "Diesel-moringa", "type": "nominal"}}},
  {"data": {"name": "k4"}, "mark": {"type": "line", "strokeWidth": 5, "strokeJoin": "round"},
   "encoding": {"x": {"field": "t", "type": "quantitative", "axis": null}, "y": {"field": "v", "type": "quantitative", "axis": null}, "color": {"datum": "Diesel-canola", "type": "nominal"}}}
 ],
 "resolve": {"axis": {"x": "independent", "y": "independent"}}
}
]
}
